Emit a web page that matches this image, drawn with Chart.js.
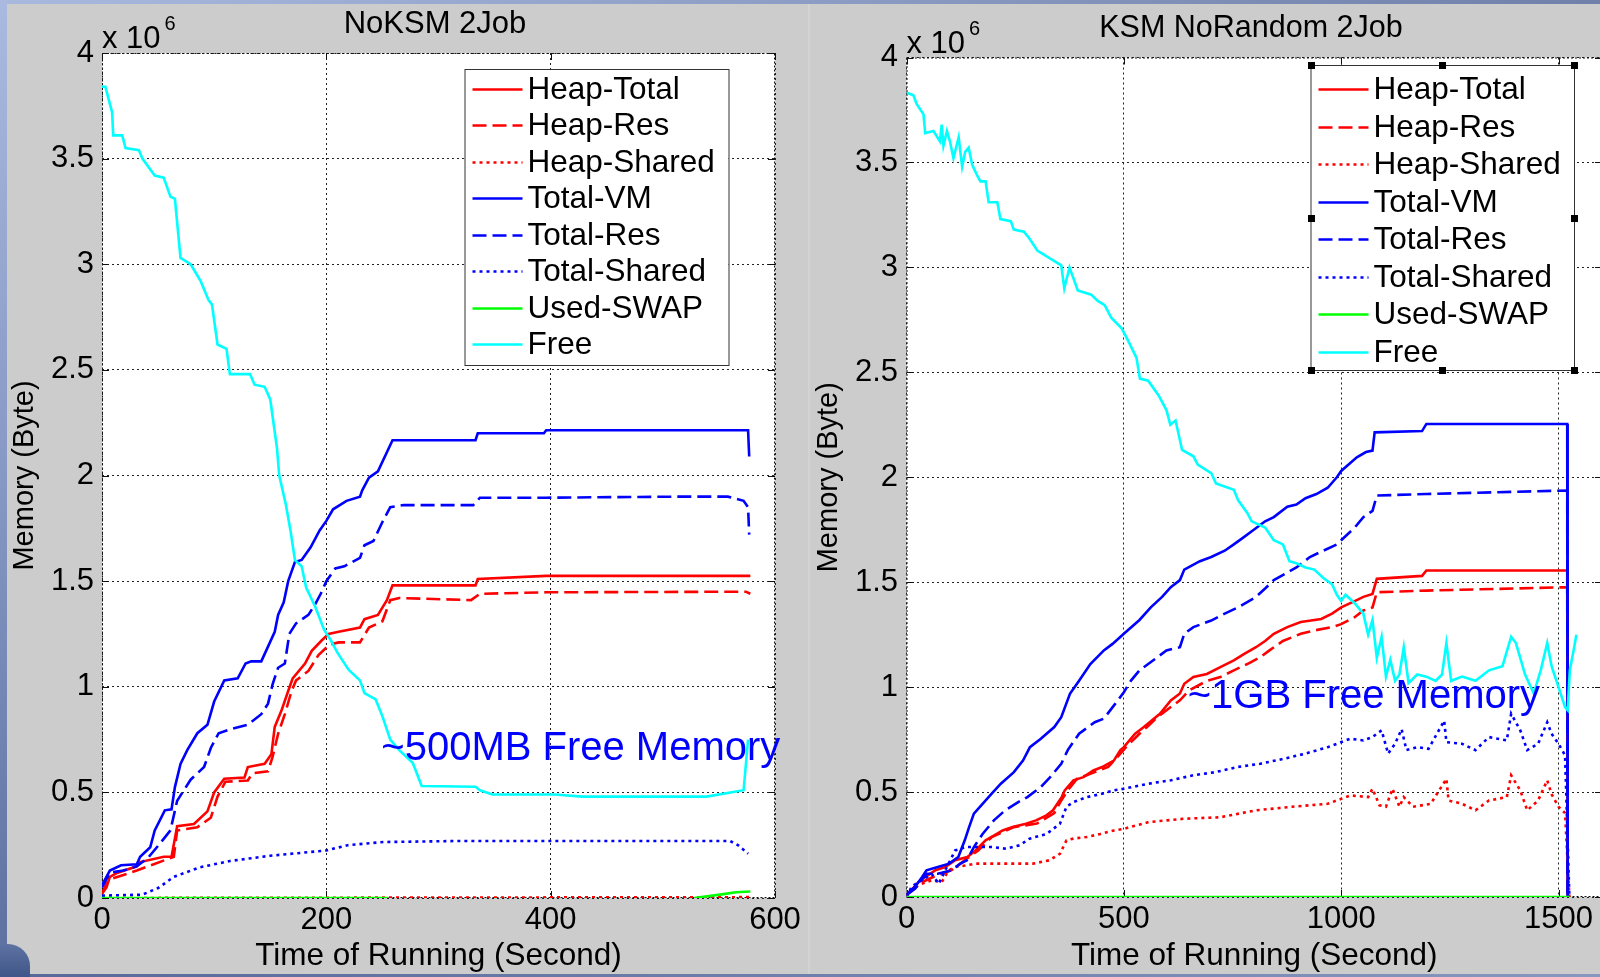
<!DOCTYPE html>
<html>
<head>
<meta charset="utf-8">
<script src="https://cdn.jsdelivr.net/npm/chart.js@4.4.1/dist/chart.umd.min.js"></script>
<style>
html,body{margin:0;padding:0;width:1600px;height:977px;overflow:hidden;background:#cccccc;}
#wrap{position:relative;width:1600px;height:977px;background:#cccccc;overflow:hidden;}
canvas{position:absolute;top:0;}
#cL{left:0;}
#cR{left:809px;}
.edge{position:absolute;z-index:3;}
#eTop{left:0;top:0;width:1600px;height:4px;background:linear-gradient(to right,#a9b9de,#7080aa);}
#eLeft{left:0;top:0;width:7px;height:977px;background:linear-gradient(to bottom,#aab9df,#8194c0 55%,#5b709f);}
#eBottom{left:0;top:974px;width:1600px;height:3px;background:linear-gradient(to right,#56699a,#8797bf);}
#eCorner{left:0;top:944px;width:30px;height:33px;background:linear-gradient(to bottom,#5e73a3,#3f5688);border-top-right-radius:22px;}
#seam{left:808px;top:4px;width:2px;height:970px;background:#d3d3d3;z-index:2;}
</style>
</head>
<body>
<div id="wrap">
  <canvas id="cL" width="809" height="977"></canvas>
  <canvas id="cR" width="831" height="977"></canvas>
  <div class="edge" id="seam"></div>
  <div class="edge" id="eTop"></div>
  <div class="edge" id="eLeft"></div>
  <div class="edge" id="eBottom"></div>
  <div class="edge" id="eCorner"></div>
</div>
<script>
// ---------------- DATA ----------------
const SERIES_NAMES = ['Heap-Total','Heap-Res','Heap-Shared','Total-VM','Total-Res','Total-Shared','Used-SWAP','Free'];
const Y_TICKS = [0, 0.5, 1, 1.5, 2, 2.5, 3, 3.5, 4];   // x 10^6
const L_X_TICKS = [0, 200, 400, 600];
const R_X_TICKS = [0, 500, 1000, 1500];
const L_X_MAX = 600;
const R_X_MAX = 1600;

// Left: "NoKSM 2Job"  — [time (s), memory (x10^6)]
const L_HEAP_TOTAL = [[0,0.02],[4,0.05],[7,0.10],[14,0.12],[31,0.15],[34,0.17],[55,0.195],[62,0.195],[67,0.34],[82,0.35],[94,0.41],[100,0.50],[109,0.565],[127,0.57],[130,0.62],[145,0.635],[151,0.68],[154,0.81],[160,0.887],[166,0.98],[170,1.04],[181,1.11],[187,1.17],[196,1.22],[202,1.25],[211,1.26],[230,1.28],[234,1.32],[246,1.34],[254,1.41],[259,1.48],[333,1.48],[335,1.51],[396,1.525],[578,1.525]];
const L_HEAP_RES = [[0,0.02],[4,0.07],[8,0.09],[31,0.13],[64,0.195],[67,0.32],[85,0.335],[97,0.38],[103,0.48],[110,0.55],[130,0.556],[134,0.59],[148,0.60],[152,0.667],[157,0.777],[163,0.87],[169,0.98],[173,1.03],[184,1.075],[193,1.15],[203,1.20],[211,1.21],[230,1.21],[238,1.28],[250,1.31],[257,1.41],[265,1.42],[329,1.41],[337,1.44],[396,1.447],[574,1.45],[578,1.44]];
const L_HEAP_SHARED = [[0,0],[578,0.004]];
const L_TOTAL_VM = [[0,0.06],[7,0.13],[17,0.155],[31,0.16],[34,0.195],[43,0.24],[47,0.32],[56,0.415],[62,0.42],[65,0.525],[70,0.635],[76,0.70],[85,0.78],[94,0.82],[100,0.93],[109,1.03],[121,1.04],[128,1.11],[133,1.12],[142,1.12],[148,1.19],[154,1.26],[157,1.34],[162,1.40],[166,1.50],[172,1.59],[178,1.60],[186,1.66],[194,1.74],[200,1.785],[206,1.84],[218,1.88],[230,1.90],[232,1.93],[238,1.99],[246,2.02],[259,2.167],[333,2.167],[335,2.20],[394,2.20],[396,2.214],[576,2.214],[577,2.09]];
const L_TOTAL_RES = [[0,0.05],[7,0.12],[19,0.13],[31,0.15],[41,0.19],[52,0.26],[61,0.32],[67,0.46],[79,0.56],[91,0.62],[97,0.71],[104,0.78],[115,0.80],[130,0.82],[142,0.87],[148,0.92],[152,1.01],[157,1.09],[163,1.11],[167,1.25],[173,1.30],[184,1.34],[190,1.39],[195,1.44],[200,1.50],[208,1.56],[216,1.57],[230,1.61],[234,1.67],[242,1.69],[250,1.78],[257,1.85],[269,1.86],[331,1.86],[337,1.895],[396,1.895],[515,1.90],[558,1.90],[572,1.88],[576,1.85],[577,1.72]];
const L_TOTAL_SHARED = [[0,0.011],[36,0.016],[50,0.047],[64,0.10],[87,0.145],[114,0.175],[150,0.20],[200,0.225],[219,0.25],[251,0.265],[319,0.27],[400,0.27],[560,0.27],[567,0.25],[576,0.21]];
const L_USED_SWAP = [[0,0],[255,0],[256,null],[528,0],[551,0.016],[565,0.027],[578,0.031]];
const L_FREE = [[0,3.84],[3,3.84],[9,3.72],[10,3.61],[18,3.61],[21,3.55],[33,3.54],[36,3.50],[47,3.42],[55,3.41],[61,3.32],[65,3.31],[70,3.03],[79,3.00],[88,2.92],[95,2.83],[98,2.81],[103,2.62],[111,2.60],[114,2.48],[132,2.48],[136,2.43],[145,2.42],[150,2.36],[156,2.13],[158,2.0],[164,1.86],[168,1.74],[172,1.60],[178,1.57],[182,1.47],[190,1.38],[198,1.27],[204,1.22],[210,1.16],[220,1.08],[230,1.03],[234,0.97],[244,0.94],[250,0.86],[257,0.75],[265,0.70],[277,0.64],[285,0.53],[333,0.527],[337,0.51],[348,0.49],[404,0.49],[428,0.48],[487,0.48],[539,0.48],[572,0.51],[576,0.75]];

// Right: "KSM NoRandom 2Job"
const R_HEAP_TOTAL = [[0,0.01],[10,0.03],[35,0.087],[43,0.095],[66,0.127],[89,0.143],[112,0.175],[140,0.19],[159,0.222],[182,0.27],[202,0.294],[221,0.317],[244,0.333],[275,0.349],[298,0.365],[322,0.389],[337,0.413],[357,0.476],[364,0.508],[384,0.556],[407,0.571],[430,0.603],[450,0.619],[477,0.65],[492,0.70],[500,0.714],[526,0.778],[546,0.81],[583,0.873],[608,0.937],[629,0.97],[639,1.016],[660,1.048],[691,1.063],[722,1.095],[753,1.127],[778,1.16],[804,1.19],[825,1.22],[845,1.254],[876,1.286],[907,1.31],[954,1.325],[979,1.35],[1000,1.38],[1031,1.41],[1051,1.43],[1072,1.444],[1082,1.516],[1186,1.53],[1196,1.556],[1520,1.556],[1521,0]];
const R_HEAP_RES = [[0,0.01],[10,0.025],[35,0.07],[66,0.10],[103,0.127],[134,0.175],[165,0.222],[196,0.286],[247,0.333],[300,0.35],[340,0.40],[356,0.46],[371,0.508],[392,0.563],[433,0.595],[464,0.62],[485,0.667],[505,0.714],[536,0.778],[557,0.817],[577,0.857],[608,0.905],[629,0.937],[650,0.984],[691,1.03],[722,1.048],[753,1.08],[784,1.11],[814,1.143],[835,1.175],[866,1.22],[907,1.254],[938,1.27],[979,1.286],[1000,1.30],[1031,1.333],[1051,1.365],[1072,1.38],[1082,1.452],[1196,1.46],[1520,1.476],[1521,0]];
const R_HEAP_SHARED = [[0,0],[12,0.04],[35,0.063],[58,0.079],[81,0.071],[97,0.127],[112,0.143],[136,0.15],[159,0.159],[205,0.159],[244,0.159],[291,0.159],[329,0.175],[353,0.206],[368,0.27],[384,0.278],[415,0.286],[446,0.30],[477,0.317],[500,0.325],[557,0.357],[639,0.373],[722,0.38],[804,0.413],[887,0.43],[969,0.444],[1021,0.484],[1062,0.476],[1072,0.516],[1088,0.437],[1103,0.43],[1118,0.516],[1134,0.43],[1144,0.476],[1165,0.43],[1206,0.444],[1242,0.563],[1247,0.46],[1278,0.444],[1309,0.413],[1340,0.46],[1381,0.476],[1391,0.58],[1412,0.508],[1428,0.413],[1453,0.46],[1474,0.556],[1484,0.49],[1500,0.43],[1515,0.40],[1525,0]];
const R_TOTAL_VM = [[0,0.01],[20,0.05],[36,0.095],[46,0.127],[72,0.143],[98,0.159],[119,0.19],[134,0.27],[144,0.333],[155,0.397],[175,0.444],[196,0.492],[217,0.54],[247,0.595],[268,0.65],[284,0.714],[309,0.754],[340,0.81],[356,0.857],[376,0.968],[397,1.03],[423,1.11],[454,1.175],[474,1.206],[500,1.254],[536,1.32],[562,1.38],[588,1.43],[608,1.476],[629,1.51],[639,1.56],[675,1.60],[701,1.62],[732,1.65],[753,1.68],[773,1.71],[799,1.75],[825,1.79],[845,1.81],[876,1.86],[897,1.87],[918,1.90],[943,1.92],[969,1.95],[990,2.0],[1000,2.03],[1036,2.095],[1057,2.12],[1072,2.127],[1077,2.214],[1186,2.22],[1196,2.254],[1520,2.254],[1521,0]];
const R_TOTAL_RES = [[0,0.01],[20,0.04],[46,0.111],[72,0.111],[103,0.127],[124,0.159],[139,0.175],[155,0.238],[175,0.30],[201,0.365],[227,0.413],[257,0.452],[278,0.476],[309,0.524],[330,0.57],[356,0.635],[371,0.70],[397,0.778],[433,0.833],[454,0.85],[480,0.92],[500,0.976],[516,1.03],[536,1.08],[567,1.127],[598,1.175],[629,1.19],[639,1.254],[660,1.286],[701,1.317],[732,1.35],[763,1.38],[804,1.43],[825,1.47],[845,1.51],[871,1.54],[897,1.57],[928,1.62],[959,1.65],[990,1.68],[1000,1.70],[1031,1.76],[1051,1.81],[1072,1.84],[1082,1.913],[1196,1.92],[1520,1.937],[1521,0]];
const R_TOTAL_SHARED = [[0,0],[12,0.05],[35,0.08],[58,0.11],[74,0.063],[89,0.127],[112,0.222],[136,0.238],[167,0.238],[198,0.238],[229,0.23],[260,0.246],[283,0.278],[322,0.30],[353,0.349],[368,0.43],[384,0.452],[415,0.476],[446,0.49],[477,0.508],[500,0.516],[557,0.54],[608,0.556],[660,0.58],[711,0.595],[763,0.62],[814,0.635],[871,0.66],[917,0.683],[969,0.714],[1021,0.754],[1051,0.746],[1072,0.762],[1093,0.794],[1108,0.683],[1124,0.73],[1139,0.80],[1150,0.70],[1175,0.714],[1201,0.706],[1237,0.84],[1242,0.738],[1278,0.73],[1309,0.70],[1340,0.762],[1381,0.746],[1391,0.873],[1412,0.794],[1428,0.70],[1453,0.73],[1474,0.833],[1484,0.778],[1500,0.73],[1515,0.675],[1525,0]];
const R_USED_SWAP = [[0,0],[1525,0]];
const R_FREE = [[0,3.83],[4,3.83],[16,3.82],[23,3.78],[39,3.73],[43,3.64],[62,3.65],[77,3.60],[81,3.68],[85,3.58],[93,3.65],[100,3.60],[108,3.52],[120,3.62],[128,3.48],[135,3.55],[143,3.57],[151,3.49],[162,3.44],[170,3.41],[182,3.41],[189,3.31],[209,3.31],[216,3.23],[240,3.22],[247,3.18],[270,3.17],[282,3.14],[301,3.08],[317,3.06],[332,3.04],[356,3.01],[363,2.90],[375,3.0],[394,2.89],[425,2.87],[440,2.84],[456,2.82],[471,2.76],[495,2.71],[510,2.65],[529,2.57],[537,2.47],[556,2.46],[580,2.39],[598,2.32],[607,2.25],[619,2.27],[634,2.13],[660,2.10],[670,2.06],[701,2.02],[712,1.97],[753,1.94],[763,1.89],[784,1.83],[794,1.79],[825,1.76],[845,1.70],[866,1.68],[881,1.60],[897,1.59],[918,1.57],[938,1.56],[959,1.52],[979,1.49],[990,1.44],[1000,1.41],[1010,1.44],[1031,1.40],[1051,1.35],[1062,1.25],[1072,1.32],[1082,1.14],[1093,1.24],[1103,1.05],[1113,1.13],[1124,1.03],[1134,1.06],[1144,1.19],[1155,1.02],[1175,1.06],[1196,1.05],[1217,1.03],[1232,1.06],[1242,1.21],[1253,1.03],[1278,1.05],[1309,1.03],[1340,1.08],[1371,1.10],[1391,1.24],[1402,1.21],[1423,1.06],[1443,0.97],[1459,1.08],[1474,1.21],[1484,1.10],[1500,1.0],[1515,0.905],[1521,0.89],[1526,1.08],[1536,1.19],[1541,1.25]];

const L_SERIES = [L_HEAP_TOTAL, L_HEAP_RES, L_HEAP_SHARED, L_TOTAL_VM, L_TOTAL_RES, L_TOTAL_SHARED, L_USED_SWAP, L_FREE];
const R_SERIES = [R_HEAP_TOTAL, R_HEAP_RES, R_HEAP_SHARED, R_TOTAL_VM, R_TOTAL_RES, R_TOTAL_SHARED, R_USED_SWAP, R_FREE];

// ---------------- STYLE ----------------
const FONT = "'Liberation Sans', Arial, Helvetica, sans-serif";
Chart.defaults.font.family = FONT;
const STYLES = [
  {color:'#ff0000', dash:[]},
  {color:'#ff0000', dash:[14,6]},
  {color:'#ff0000', dash:[3,4]},
  {color:'#0000ff', dash:[]},
  {color:'#0000ff', dash:[14,6]},
  {color:'#0000ff', dash:[3,4]},
  {color:'#00ff00', dash:[]},
  {color:'#00ffff', dash:[]}
];
const LINE_W = 2.6;

const figPlugin = {
  id: 'fig',
  beforeDraw(chart) {
    const {ctx, chartArea: a} = chart;
    ctx.save();
    ctx.fillStyle = '#ffffff';
    ctx.fillRect(a.left, a.top, a.right - a.left, a.bottom - a.top);
    ctx.restore();
  },
  beforeDatasetsDraw(chart) {
    const {ctx, chartArea: a, scales: {x, y}} = chart;
    ctx.save();
    ctx.strokeStyle = '#111';
    ctx.lineWidth = 1;
    ctx.setLineDash([2, 2]);
    ctx.strokeRect(a.left + 0.5, a.top + 0.5, a.right - a.left - 1, a.bottom - a.top - 1);
    ctx.setLineDash([]);
    ctx.beginPath();
    x.ticks.forEach((t, i) => {
      const px = Math.round(x.getPixelForTick(i)) + 0.5;
      ctx.moveTo(px, a.bottom); ctx.lineTo(px, a.bottom - 7);
      ctx.moveTo(px, a.top); ctx.lineTo(px, a.top + 7);
    });
    y.ticks.forEach((t, i) => {
      const py = Math.round(y.getPixelForTick(i)) + 0.5;
      ctx.moveTo(a.left, py); ctx.lineTo(a.left + 7, py);
      ctx.moveTo(a.right, py); ctx.lineTo(a.right - 7, py);
    });
    ctx.stroke();
    ctx.restore();
  },
  afterDatasetsDraw(chart, args, o) {
    const {ctx, scales: {x, y}} = chart;
    ctx.save();
    // annotation
    ctx.fillStyle = '#0000ff';
    ctx.font = '40px ' + FONT;
    ctx.textBaseline = 'alphabetic';
    ctx.textAlign = 'left';
    ctx.fillText(o.note.text, x.getPixelForValue(o.note.t), y.getPixelForValue(o.note.v));
    // legend
    const lg = o.legend;
    ctx.fillStyle = '#ffffff';
    ctx.fillRect(lg.x, lg.y, lg.w, lg.h);
    ctx.strokeStyle = '#333';
    ctx.lineWidth = 1;
    ctx.strokeRect(lg.x + 0.5, lg.y + 0.5, lg.w, lg.h);
    chart.data.datasets.forEach((ds, i) => {
      const yy = Math.round(lg.y + lg.row0 + i * lg.step) + 0.5;
      ctx.strokeStyle = ds.borderColor;
      ctx.lineWidth = LINE_W;
      ctx.setLineDash(ds.borderDash || []);
      ctx.beginPath();
      ctx.moveTo(lg.x + 8, yy); ctx.lineTo(lg.x + 58, yy);
      ctx.stroke();
      ctx.setLineDash([]);
      ctx.fillStyle = '#000';
      ctx.font = '31.5px ' + FONT;
      ctx.textBaseline = 'middle';
      ctx.fillText(ds.label, lg.x + 63, yy + 1);
    });
    if (lg.handles) {
      ctx.fillStyle = '#000';
      const xs = [lg.x, lg.x + lg.w / 2, lg.x + lg.w];
      const ys = [lg.y, lg.y + lg.h / 2, lg.y + lg.h];
      xs.forEach((hx, ix) => ys.forEach((hy, iy) => {
        if (ix === 1 && iy === 1) return;
        ctx.fillRect(Math.round(hx) - 3, Math.round(hy) - 3, 7, 7);
      }));
    }
    ctx.restore();
  },
  afterDraw(chart, args, o) {
    const {ctx, chartArea: a} = chart;
    ctx.save();
    ctx.fillStyle = '#000';
    ctx.textBaseline = 'alphabetic';
    ctx.textAlign = 'center';
    ctx.font = o.titleSize + 'px ' + FONT;
    ctx.fillText(o.title, o.titleX, o.titleY);
    ctx.textAlign = 'left';
    ctx.font = '31px ' + FONT;
    ctx.fillText('x 10', a.left, a.top - 5);
    const w = ctx.measureText('x 10').width;
    ctx.font = '20px ' + FONT;
    ctx.fillText('6', a.left + w + 4, a.top - 23);
    ctx.restore();
  }
};

function makeChart(id, seriesList, c) {
  const datasets = seriesList.map((s, i) => ({
    label: SERIES_NAMES[i],
    data: s.map(p => ({x: p[0], y: p[1]})),
    borderColor: STYLES[i].color,
    borderDash: STYLES[i].dash,
    borderWidth: LINE_W,
    pointRadius: 0,
    fill: false,
    tension: 0,
    spanGaps: false,
    order: 7 - i
  }));
  const tickFont = {size: 31, family: FONT};
  return new Chart(document.getElementById(id), {
    type: 'line',
    data: {datasets},
    options: {
      responsive: false,
      animation: false,
      events: [],
      devicePixelRatio: 1,
      layout: {padding: {left: c.padL, top: c.padT, right: c.padR, bottom: 0}},
      plugins: {
        legend: {display: false},
        tooltip: {enabled: false},
        fig: c.fig
      },
      scales: {
        x: {
          type: 'linear', min: 0, max: c.xMax,
          afterBuildTicks(s) { s.ticks = c.xTicks.map(v => ({value: v})); },
          ticks: {autoSkip: false, maxRotation: 0, callback: v => String(v),
                  font: tickFont, color: '#000', padding: 4},
          grid: {color: '#222', lineWidth: 1, drawTicks: false},
          border: {display: false, dash: [2, 3]},
          title: {display: true, text: 'Time of Running (Second)', font: {size: 31.5, family: FONT}, color: '#000', padding: {top: 0, bottom: 1.5}},
          afterFit(s) { s.height = c.xH; }
        },
        y: {
          type: 'linear', min: 0, max: Y_TICKS[Y_TICKS.length - 1],
          afterBuildTicks(s) { s.ticks = Y_TICKS.map(v => ({value: v})); },
          ticks: {autoSkip: false, callback: v => String(v), font: tickFont, color: '#000', padding: c.yPad},
          grid: {color: '#222', lineWidth: 1, drawTicks: false},
          border: {display: false, dash: [2, 3]},
          title: {display: true, text: 'Memory (Byte)', font: {size: 29, family: FONT}, color: '#000', padding: {top: 0, bottom: 0}},
          afterFit(s) { s.width = c.yW; }
        }
      }
    },
    plugins: [figPlugin]
  });
}

makeChart('cL', L_SERIES, {
  padL: 8, padT: 53, padR: 34, yW: 94, xH: 79, yPad: 8,
  xMax: L_X_MAX, xTicks: L_X_TICKS,
  fig: {
    title: 'NoKSM 2Job', titleX: 435, titleY: 33, titleSize: 31,
    note: {text: '~500MB Free Memory', t: 249, v: 0.653},
    legend: {x: 464.5, y: 69, w: 264, h: 296, row0: 19.5, step: 36.5, handles: false}
  }
});

makeChart('cR', R_SERIES, {
  padL: 2.2, padT: 57.5, padR: 38, yW: 95.3, xH: 80, yPad: 8.5,
  xMax: R_X_MAX, xTicks: R_X_TICKS,
  fig: {
    title: 'KSM NoRandom 2Job', titleX: 442, titleY: 37, titleSize: 30.5,
    note: {text: '~1GB Free Memory', t: 647, v: 0.90},
    legend: {x: 501.5, y: 65, w: 263.5, h: 305, row0: 24, step: 37.5, handles: true}
  }
});
</script>
</body>
</html>
